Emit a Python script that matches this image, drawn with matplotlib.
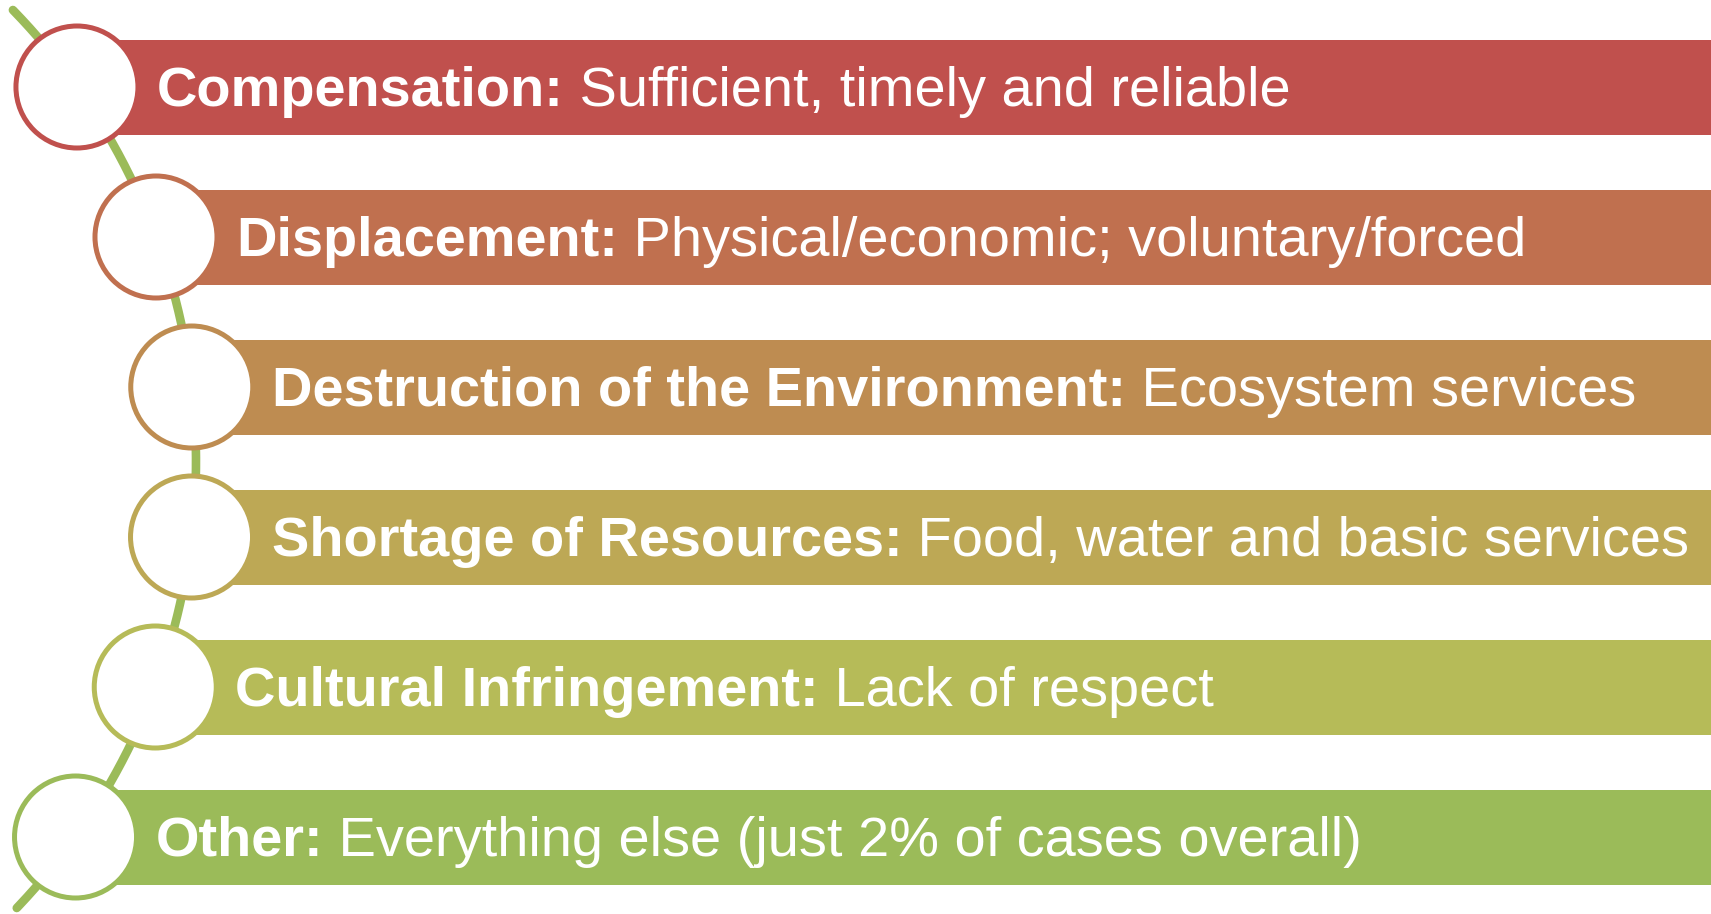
import numpy as np
import matplotlib.pyplot as plt
from matplotlib.patches import Circle, Rectangle

plt.rcParams['font.family'] = ['Liberation Sans', 'DejaVu Sans']

# content
labels = ['Compensation:', 'Displacement:', 'Destruction of the Environment:',
          'Shortage of Resources:', 'Cultural Infringement:', 'Other:']
descs = ['Sufficient, timely and reliable',
         'Physical/economic; voluntary/forced',
         'Ecosystem services',
         'Food, water and basic services',
         'Lack of respect',
         'Everything else (just 2% of cases overall)']
colors = ['#C0504D', '#C0704F', '#BE8C51', '#BDA855', '#B6BB58', '#9BBB59']
line_color = '#9BBB59'

W, H = 1711, 914
fig = plt.figure(figsize=(W / 100, H / 100), dpi=100)
ax = fig.add_axes([0, 0, 1, 1])
ax.set_xlim(0, W)
ax.set_ylim(H, 0)
ax.axis('off')

# big arc that the circles sit on (pixel layout)
xc, yc, R = -451, 461, 647
ys = np.linspace(10, 908, 400)
xs = xc + np.sqrt(R**2 - (ys - yc)**2)
ax.plot(xs, ys, color=line_color, lw=6.2, solid_capstyle='round', zorder=1)

row0, step, bar_h, rad = 87, 150, 95, 61
fig.canvas.draw()
renderer = fig.canvas.get_renderer()

for i, (lab, desc, col) in enumerate(zip(labels, descs, colors)):
    y = row0 + i * step
    x = xc + np.sqrt(R**2 - (y - yc)**2)
    ax.add_patch(Rectangle((x, y - bar_h / 2), W - x + 5, bar_h,
                           facecolor=col, edgecolor='none', zorder=2))
    ax.add_patch(Circle((x, y), rad, facecolor='white', edgecolor=col,
                        lw=3.6, zorder=3))
    tx = x + 80
    t1 = ax.text(tx, y + 19, lab, color='white', fontsize=40.3,
                 fontweight='bold', va='baseline', ha='left', zorder=4)
    bb = t1.get_window_extent(renderer).transformed(ax.transData.inverted())
    ax.text(bb.x1, y + 19, ' ' + desc, color='white', fontsize=40.3,
            va='baseline', ha='left', zorder=4)

fig.savefig('out.png', dpi=100, facecolor='white')
